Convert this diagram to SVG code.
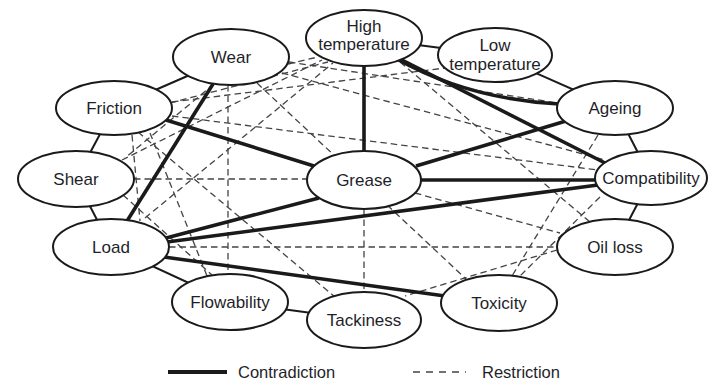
<svg xmlns="http://www.w3.org/2000/svg" width="710" height="380" viewBox="0 0 710 380">
<style>
.ring{stroke:#1a1a1a;stroke-width:2;fill:none}
.thick{stroke:#1a1a1a;stroke-width:3.6;fill:none;stroke-linecap:butt}
.dash{stroke:#444;stroke-width:1.3;fill:none;stroke-dasharray:6.5 4}
.node ellipse{fill:#fff;stroke:#1a1a1a;stroke-width:2}
text{font-family:"Liberation Sans",Arial,sans-serif;font-size:17px;fill:#1f1f2a;text-anchor:middle}
.leg{text-anchor:start;font-size:16.5px}
</style>
<rect width="710" height="380" fill="#fff"/>
<g id="connectors">
<line class="ring" x1="231" y1="57" x2="114" y2="108"/>
<line class="ring" x1="114" y1="108" x2="76" y2="179"/>
<line class="ring" x1="76" y1="179" x2="111" y2="247"/>
<line class="ring" x1="111" y1="247" x2="230" y2="302"/>
<line class="ring" x1="230" y1="302" x2="364" y2="320"/>
<line class="ring" x1="364" y1="38" x2="495" y2="55"/>
<line class="ring" x1="495" y1="55" x2="615" y2="108"/>
<line class="ring" x1="615" y1="108" x2="651" y2="178"/>
<line class="ring" x1="651" y1="178" x2="615" y2="247"/>
<line class="dash" x1="288" y1="64" x2="318" y2="57"/>
<line class="dash" x1="170" y1="103" x2="328" y2="62"/>
<line class="dash" x1="172" y1="102" x2="445" y2="68"/>
<line class="dash" x1="172" y1="116" x2="598" y2="170"/>
<line class="dash" x1="138" y1="132" x2="335" y2="297"/>
<line class="dash" x1="150" y1="133" x2="207" y2="276"/>
<line class="dash" x1="132" y1="135" x2="140" y2="221"/>
<line class="dash" x1="282" y1="73" x2="605" y2="160"/>
<line class="dash" x1="289" y1="62" x2="558" y2="103"/>
<line class="dash" x1="257" y1="83" x2="466" y2="279"/>
<line class="dash" x1="228" y1="85" x2="228" y2="274"/>
<line class="dash" x1="214" y1="84" x2="125" y2="158"/>
<line class="dash" x1="122" y1="160" x2="322" y2="60"/>
<line class="dash" x1="134" y1="179" x2="307" y2="179"/>
<line class="dash" x1="123" y1="195" x2="212" y2="275"/>
<line class="dash" x1="145" y1="218" x2="333" y2="63"/>
<line class="dash" x1="169" y1="247" x2="557" y2="247"/>
<line class="dash" x1="364" y1="209" x2="364" y2="292"/>
<line class="dash" x1="415" y1="193" x2="560" y2="233"/>
<line class="dash" x1="400" y1="62" x2="590" y2="222"/>
<line class="dash" x1="598" y1="135" x2="512" y2="276"/>
<line class="dash" x1="600" y1="197" x2="520" y2="276"/>
<line class="dash" x1="557" y1="250" x2="405" y2="296"/>
<line class="thick" x1="213" y1="84" x2="127" y2="221"/>
<line class="thick" x1="166" y1="120" x2="314" y2="166"/>
<line class="thick" x1="364" y1="64" x2="364" y2="152"/>
<path class="thick" d="M397,59 Q468,99 559,104"/>
<line class="thick" x1="402" y1="60" x2="607" y2="164"/>
<line class="thick" x1="416" y1="166" x2="566" y2="121"/>
<line class="thick" x1="420" y1="180" x2="597" y2="180"/>
<line class="thick" x1="166" y1="238" x2="319" y2="198"/>
<line class="thick" x1="167" y1="242" x2="598" y2="185"/>
<line class="thick" x1="164" y1="257" x2="445" y2="296"/>
</g>
<g id="n-high" class="node"><ellipse cx="364" cy="38" rx="58" ry="28"/><text x="364" y="32">High</text><text x="364" y="50">temperature</text></g>
<g id="n-low" class="node"><ellipse cx="495" cy="55" rx="57" ry="27"/><text x="495" y="51">Low</text><text x="495" y="70">temperature</text></g>
<g id="n-wear" class="node"><ellipse cx="231" cy="57" rx="58" ry="28"/><text x="231" y="63">Wear</text></g>
<g id="n-friction" class="node"><ellipse cx="114" cy="108" rx="58" ry="27"/><text x="114" y="114">Friction</text></g>
<g id="n-shear" class="node"><ellipse cx="76" cy="179" rx="58" ry="28"/><text x="76" y="185">Shear</text></g>
<g id="n-grease" class="node"><ellipse cx="364" cy="180" rx="57" ry="29"/><text x="364" y="186">Grease</text></g>
<g id="n-ageing" class="node"><ellipse cx="615" cy="108" rx="58" ry="27"/><text x="615" y="114">Ageing</text></g>
<g id="n-compat" class="node"><ellipse cx="651" cy="178" rx="56" ry="27"/><text x="651" y="184">Compatibility</text></g>
<g id="n-oil" class="node"><ellipse cx="615" cy="247" rx="58" ry="28"/><text x="615" y="253">Oil loss</text></g>
<g id="n-tox" class="node"><ellipse cx="499" cy="303" rx="58" ry="28"/><text x="499" y="309">Toxicity</text></g>
<g id="n-tack" class="node"><ellipse cx="364" cy="320" rx="57" ry="28"/><text x="364" y="326">Tackiness</text></g>
<g id="n-flow" class="node"><ellipse cx="230" cy="302" rx="58" ry="28"/><text x="230" y="308">Flowability</text></g>
<g id="n-load" class="node"><ellipse cx="111" cy="247" rx="58" ry="28"/><text x="111" y="253">Load</text></g>
<g id="legend">
<line class="thick" x1="168" y1="372" x2="227" y2="372" style="stroke-width:4"/>
<text class="leg" x="238" y="378">Contradiction</text>
<line class="dash" x1="413" y1="372" x2="466" y2="372" style="stroke-dasharray:7 6"/>
<text class="leg" x="482" y="378">Restriction</text>
</g>
</svg>
